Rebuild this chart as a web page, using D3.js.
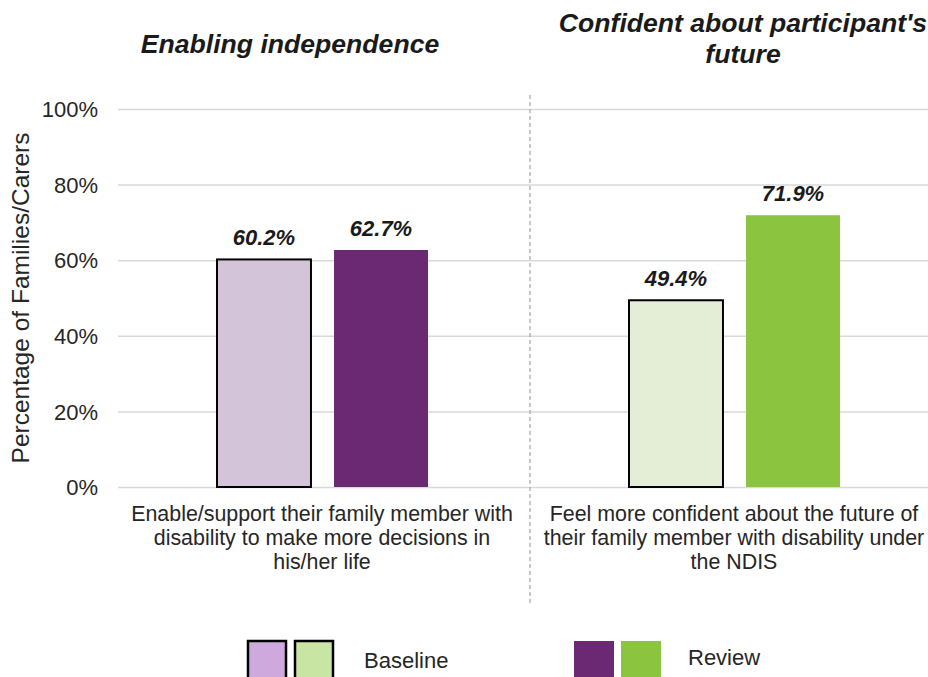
<!DOCTYPE html>
<html>
<head>
<meta charset="utf-8">
<script src="https://cdn.jsdelivr.net/npm/d3@7"></script>
<style>
  html, body { margin: 0; padding: 0; background: #fff; }
  svg { display: block; font-family: "Liberation Sans", Arial, sans-serif; }
</style>
</head>
<body>
<svg id="chart" width="928" height="677"></svg>
<script>
// Survey outcomes for families and carers
const groupTitles = [
  ["Enabling independence"],
  ["Confident about participant's", "future"]
];
const categories = [
  ["Enable/support their family member with", "disability to make more decisions in", "his/her life"],
  ["Feel more confident about the future of", "their family member with disability under", "the NDIS"]
];
const seriesNames = ["Baseline", "Review"];
const baselineValues = [60.2, 49.4];
const reviewValues = [62.7, 71.9];
const yTicks = [0, 20, 40, 60, 80, 100];
const yTitle = "Percentage of Families/Carers";

// Fill colours per group: [baseline, review]
const barFills = [["#D4C4DA", "#6B2873"], ["#E4EED6", "#8BC540"]];
const legendFills = [["#CDA9DD", "#C8E5A4"], ["#6B2873", "#8BC540"]];

const svg = d3.select("#chart");
const plotLeft = 118, plotRight = 942, plotTop = 109, plotBottom = 487;

const y = d3.scaleLinear().domain([0, 100]).range([plotBottom, plotTop]);
const x0 = d3.scaleBand().domain(d3.range(categories.length)).range([plotLeft, plotRight]);
const gw = x0.bandwidth();
const x1 = d3.scaleBand().domain(seriesNames)
  .range([gw * 0.2403, gw * 0.7524]).paddingInner(0.197).paddingOuter(0);

// Horizontal gridlines
const yAxis = d3.axisLeft(y).tickValues(yTicks).tickSize(-(928 - plotLeft)).tickFormat(d => d + "%");
const ga = svg.append("g").attr("transform", `translate(${plotLeft},0)`).call(yAxis);
ga.select(".domain").remove();
ga.selectAll(".tick line").attr("stroke", "#d9d9d9").attr("stroke-width", 1.5);
ga.selectAll(".tick text")
  .attr("x", -20).attr("dy", "0.35em")
  .attr("font-size", 22).attr("fill", "#262626")
  .attr("font-family", "'Liberation Sans', Arial, sans-serif");

// Divider between groups
svg.append("line")
  .attr("x1", x0(1)).attr("x2", x0(1))
  .attr("y1", 95).attr("y2", 603)
  .attr("stroke", "#a6a6a6").attr("stroke-width", 1.2)
  .attr("stroke-dasharray", "4,3");

// Y axis title
svg.append("text")
  .attr("transform", `translate(29,${(plotTop + plotBottom) / 2}) rotate(-90)`)
  .attr("text-anchor", "middle")
  .attr("font-size", 24.5).attr("fill", "#262626")
  .text(yTitle);

// Bars
const rows = categories.map((c, i) => ({ i, values: [baselineValues[i], reviewValues[i]] }));
const groups = svg.append("g").selectAll("g").data(rows).join("g")
  .attr("transform", d => `translate(${x0(d.i)},0)`);

groups.selectAll("rect")
  .data(d => d.values.map((v, k) => ({ i: d.i, k, v })))
  .join("rect")
  .attr("x", d => x1(seriesNames[d.k]))
  .attr("y", d => y(d.v))
  .attr("width", x1.bandwidth())
  .attr("height", d => y(0) - y(d.v))
  .attr("fill", d => barFills[d.i][d.k])
  .attr("stroke", d => d.k === 0 ? "#000" : "none")
  .attr("stroke-width", 2);

groups.selectAll("text.val")
  .data(d => d.values.map((v, k) => ({ i: d.i, k, v })))
  .join("text")
  .attr("class", "val")
  .attr("x", d => x1(seriesNames[d.k]) + x1.bandwidth() / 2)
  .attr("y", d => y(d.v) - 14)
  .attr("text-anchor", "middle")
  .attr("font-size", 22).attr("font-weight", "bold").attr("font-style", "italic")
  .attr("fill", "#1a1a1a")
  .text(d => d.v.toFixed(1) + "%");

// Category labels under the axis
groups.append("text")
  .attr("text-anchor", "middle")
  .attr("font-size", 21.4).attr("fill", "#262626")
  .selectAll("tspan").data(d => categories[d.i]).join("tspan")
  .attr("x", gw / 2 - 2)
  .attr("y", (d, k) => 521 + k * 24)
  .text(d => d);

// Group titles
groups.append("text")
  .attr("text-anchor", "middle")
  .attr("font-size", 26.6).attr("font-weight", "bold").attr("font-style", "italic")
  .attr("fill", "#1a1a1a")
  .selectAll("tspan").data(d => groupTitles[d.i]).join("tspan")
  .attr("x", d => d === groupTitles[0][0] ? gw / 2 - 34 : gw / 2 + 7)
  .attr("y", function (d, k) { return (groupTitles[0].includes(d) ? 53 : 32) + k * 31; })
  .text(d => d);

// Legend
const legendItems = [
  { name: seriesNames[0], x: 247, textX: 364, stroke: true },
  { name: seriesNames[1], x: 574, textX: 688, stroke: false }
];
const lg = svg.append("g").selectAll("g").data(legendItems).join("g");
lg.each(function (d, j) {
  const g = d3.select(this);
  legendFills[j].forEach((f, k) => {
    g.append("rect")
      .attr("x", d.x + k * 47 + (d.stroke ? 1 : 0)).attr("y", 641)
      .attr("width", d.stroke ? 38 : 40).attr("height", 44)
      .attr("fill", f)
      .attr("stroke", d.stroke ? "#000" : "none")
      .attr("stroke-width", 2.5);
  });
  g.append("text")
    .attr("x", d.textX).attr("y", j === 0 ? 668 : 665)
    .attr("font-size", 22).attr("fill", "#262626")
    .text(d.name);
});
</script>
</body>
</html>
